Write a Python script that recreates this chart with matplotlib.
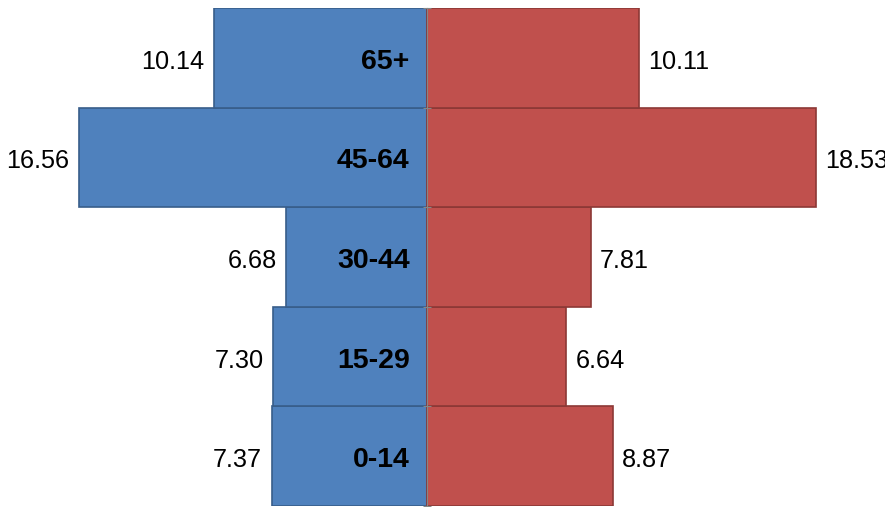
import numpy as np
import matplotlib as mpl
import matplotlib.pyplot as plt

mpl.use('Agg')

plt.rcParams['font.family'] = ['Liberation Sans', 'DejaVu Sans']

# datos
grupos = ['0-14', '15-29', '30-44', '45-64', '65+']
hombres = [7.37, 7.30, 6.68, 16.56, 10.14]
mujeres = [8.87, 6.64, 7.81, 18.53, 10.11]

azul = '#4F81BD'
rojo = '#C0504D'

fig = plt.figure(figsize=(8.85, 5.07), dpi=100)
ax = fig.add_axes([0, 1 / 507, 1, 498 / 507])

y = np.arange(len(grupos))
ax.barh(y, [-v for v in hombres], height=1.0, color=azul, edgecolor='#385D8A', linewidth=1.2)
ax.barh(y, mujeres, height=1.0, color=rojo, edgecolor='#8C3836', linewidth=1.2)

esc = 21.0
ax.set_xlim(-426.5 / esc, 458.5 / esc)
ax.set_ylim(-0.5, 4.5)

pad = 9.5 / esc
dy = -0.04
for i in range(len(grupos)):
    ax.text(-hombres[i] - pad, y[i] + dy, '%.2f' % hombres[i], ha='right', va='center', fontsize=18.2)
    ax.text(mujeres[i] + pad, y[i] + dy, '%.2f' % mujeres[i], ha='left', va='center', fontsize=18.2)
    ax.text(-17 / esc, y[i] + dy, grupos[i], ha='right', va='center', fontsize=20.5, fontweight='bold')

for s in ['top', 'right', 'bottom']:
    ax.spines[s].set_visible(False)
ax.spines['left'].set_position(('data', 0))
ax.spines['left'].set_color('#868686')
ax.spines['left'].set_zorder(3)
ax.set_xticks([])
ax.set_yticks(np.arange(-0.5, 5.0, 1.0))
ax.tick_params(axis='y', direction='inout', length=6, color='#868686', labelleft=False)

plt.savefig('out.png', dpi=100)
